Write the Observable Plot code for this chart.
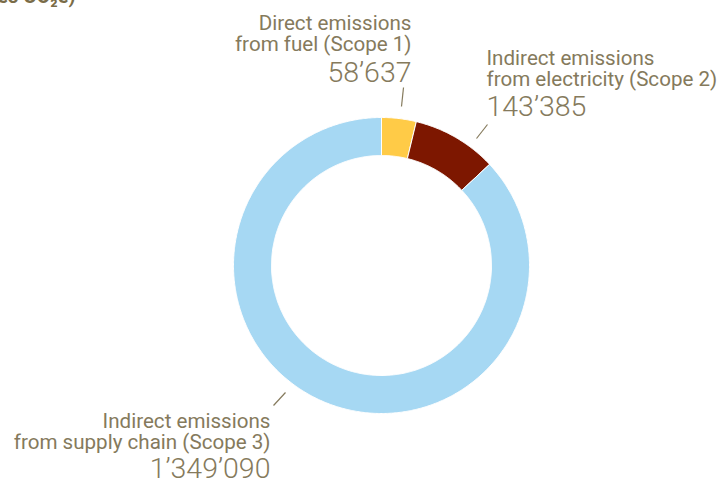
<!DOCTYPE html>
<html>
<head>
<meta charset="utf-8">
<script src="https://cdn.jsdelivr.net/npm/d3@7"></script>
<script src="https://cdn.jsdelivr.net/npm/@observablehq/plot@0.6"></script>
<style>
  html, body { margin: 0; padding: 0; background: #fff; }
  #chart svg { display: block; }
</style>
</head>
<body>
<div id="chart"></div>
<script>
// ---- data ----
const categories = ["Scope 1", "Scope 2", "Scope 3"];
const labels = [
  "Direct emissions\nfrom fuel (Scope 1)",
  "Indirect emissions\nfrom electricity (Scope 2)",
  "Indirect emissions\nfrom supply chain (Scope 3)"
];
const values = [58637, 143385, 1349090];
const valueLabels = ["58’637", "143’385", "1’349’090"];
const titleFragment = "(tonnes CO₂e)";

// ---- styles / layout ----
const colors = ["#FFCB47", "#7D1700", "#A6D8F3"];
const textColor = "#857A5C";
const W = 723, H = 481;
const cx = 381, cy = 265;       // donut centre in pixels
const rOuter = 148, rInner = 110;
// label layout (relative to centre, pixels, y up)
const labelLayout = [
  {x: 30, y: 215, ny: 184, anchor: "end", l: [22, 178, 20, 159]},
  {x: 105, y: 180, ny: 150, anchor: "start", l: [106, 141, 95, 127]},
  {x: -111, y: -183, ny: -212, anchor: "end", l: [-96, -127, -108, -140]}
];

// ---- geometry from data ----
const pie = d3.pie().sort(null).value(d => d.value)(
  categories.map((c, i) => ({cat: c, value: values[i]}))
);
const ring = [];
pie.forEach((s, i) => {
  const a0 = s.startAngle, a1 = s.endAngle;
  const n = Math.max(2, Math.ceil((a1 - a0) / (Math.PI / 360)));
  const pts = [];
  for (let k = 0; k <= n; k++) {
    const a = a0 + (a1 - a0) * k / n;
    pts.push([rOuter * Math.sin(a), rOuter * Math.cos(a)]);
  }
  for (let k = n; k >= 0; k--) {
    const a = a0 + (a1 - a0) * k / n;
    pts.push([rInner * Math.sin(a), rInner * Math.cos(a)]);
  }
  pts.push(pts[0]);
  pts.forEach(p => ring.push({cat: categories[i], x: p[0], y: p[1]}));
});

const labelData = categories.map((c, i) => ({
  cat: c, label: labels[i], value: valueLabels[i], ...labelLayout[i]
}));
const startLabels = labelData.filter(d => d.anchor === "start");
const endLabels = labelData.filter(d => d.anchor === "end");

const labelMarks = (data, anchor) => [
  Plot.text(data, {x: "x", y: "y", text: "label", textAnchor: anchor, lineAnchor: "bottom", fontSize: 20.6, lineHeight: 1.02, fill: textColor}),
  Plot.text(data, {x: "x", y: "ny", text: "value", textAnchor: anchor, lineAnchor: "bottom", fontSize: 28.5, fontWeight: 300, fill: textColor})
];

const chart = Plot.plot({
  width: W,
  height: H,
  margin: 0,
  style: {fontFamily: "Roboto, sans-serif", background: "white"},
  x: {domain: [-cx, W - cx], range: [0, W], axis: null},
  y: {domain: [cy - H, cy], range: [H, 0], axis: null},
  color: {domain: categories, range: colors},
  marks: [
    Plot.line(ring, {x: "x", y: "y", z: "cat", fill: "cat", stroke: "white", strokeWidth: 1, curve: "linear"}),
    Plot.link(labelData, {x1: d => d.l[0], y1: d => d.l[1], x2: d => d.l[2], y2: d => d.l[3], stroke: textColor, strokeWidth: 1.2}),
    ...labelMarks(startLabels, "start"),
    ...labelMarks(endLabels, "end"),
    Plot.text([titleFragment], {x: [75 - cx], y: [cy - 2], text: d => d, textAnchor: "end", lineAnchor: "bottom", fontSize: 20, fontWeight: "bold", fill: "#7A6C48"})
  ]
});
document.getElementById("chart").appendChild(chart);
</script>
</body>
</html>
